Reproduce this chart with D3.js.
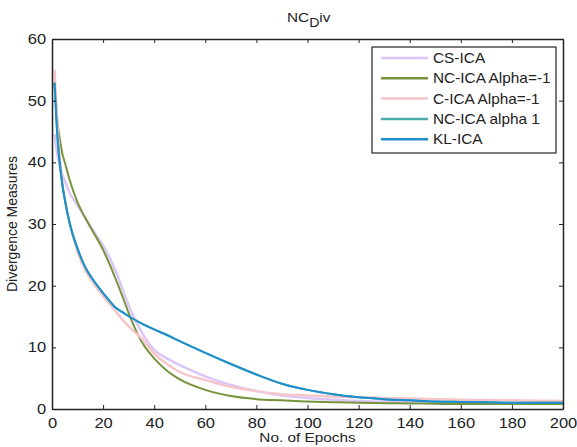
<!DOCTYPE html>
<html>
<head>
<meta charset="utf-8">
<script src="https://cdn.jsdelivr.net/npm/d3@7"></script>
<style>
body { margin: 0; background: #fff; }
svg text { font-family: "Liberation Sans", Arial, sans-serif; fill: #222; }
</style>
</head>
<body>
<svg id="chart" width="577" height="447"></svg>
<script>
// epochs
var epochs = [1, 2, 3, 4, 5, 7, 10, 13, 16, 20, 22, 25, 28, 31, 35, 40, 45, 50, 60, 70, 80, 90, 100, 110, 120, 130, 140, 150, 160, 170, 180, 190, 200];

var csIca      = [44.6, 41.5, 39.5, 38, 37, 35, 33, 31, 29, 26.5, 25, 22.3, 19, 15.8, 12.5, 9.6, 8.2, 7.1, 5.3, 3.9, 2.9, 2.2, 1.8, 1.5, 1.3, 1.2, 1.1, 1.05, 1.0, 0.95, 0.9, 0.9, 0.9];
var ncIcaNeg   = [53, 47, 44, 41.5, 40, 37, 33.5, 31, 28.8, 25.8, 24.0, 21.0, 17.8, 14.5, 11, 8.2, 6.2, 4.8, 3.1, 2.1, 1.6, 1.4, 1.2, 1.1, 1.0, 0.95, 0.9, 0.85, 0.8, 0.8, 0.8, 0.8, 0.8];
var cIcaNeg    = [55, 47, 41, 37, 34, 30, 25.5, 22.5, 20.5, 18.3, 17.3, 15.8, 14.3, 13, 11.5, 9.0, 7.3, 6.0, 4.7, 3.6, 2.9, 2.4, 2.2, 2.0, 1.9, 1.8, 1.7, 1.6, 1.5, 1.45, 1.4, 1.35, 1.3];
var ncIcaPos   = [52.9, 45, 40, 36.5, 34, 30, 26, 23, 21, 18.8, 17.8, 16.4, 15.6, 14.8, 13.9, 12.9, 12.0, 11.0, 9.1, 7.3, 5.6, 4.1, 3.1, 2.4, 1.9, 1.6, 1.4, 1.2, 1.15, 1.1, 1.0, 1.0, 1.0];
var klIca      = [52.9, 45, 40, 36.5, 34, 30, 26, 23, 21, 18.8, 17.8, 16.4, 15.6, 14.8, 13.9, 12.9, 12.0, 11.0, 9.1, 7.3, 5.6, 4.1, 3.1, 2.4, 1.9, 1.6, 1.4, 1.2, 1.15, 1.1, 1.0, 1.0, 1.0];

var seriesNames = ["CS-ICA", "NC-ICA Alpha=-1", "C-ICA Alpha=-1", "NC-ICA alpha 1", "KL-ICA"];
var seriesValues = [csIca, ncIcaNeg, cIcaNeg, ncIcaPos, klIca];
var seriesColors = ["#dcc6f7", "#77933c", "#f7c6cb", "#4bacaa", "#1f8fcc"];
var seriesWidths = [2.5, 2, 2.5, 2, 2];

var xTicks = [0, 20, 40, 60, 80, 100, 120, 140, 160, 180, 200];
var yTicks = [0, 10, 20, 30, 40, 50, 60];

var svg = d3.select("#chart");
var m = {left: 52, right: 14, top: 39, bottom: 38},
    w = 577 - m.left - m.right,
    h = 447 - m.top - m.bottom;

var x = d3.scaleLinear().domain([0, 200]).range([0, w]);
var y = d3.scaleLinear().domain([0, 60]).range([h, 0]);

var g = svg.append("g").attr("transform", "translate(" + m.left + "," + m.top + ")");

// lines
var line = d3.line().x(function(d) { return x(d[0]); }).y(function(d) { return y(d[1]); }).curve(d3.curveMonotoneX);

seriesValues.forEach(function(vals, i) {
	g.append("path")
		.datum(epochs.map(function(e, j) { return [e, vals[j]]; }))
		.attr("fill", "none")
		.attr("stroke", seriesColors[i])
		.attr("stroke-width", seriesWidths[i])
		.attr("d", line);
});

// text in the picture is a bit stretched sideways
var stretch = 1.18;

// axes (matlab style: ticks inside, mirrored on top/right)
function styleAxis(sel) {
	sel.selectAll(".domain").attr("stroke", "#222").attr("stroke-width", 1.5);
	sel.selectAll(".tick line").attr("stroke", "#222");
	sel.selectAll(".tick text").style("font-size", "14px").attr("fill", "#222");
}

var xAxis = g.append("g").attr("transform", "translate(0," + h + ")")
	.call(d3.axisBottom(x).tickValues(xTicks).tickSizeInner(-4).tickSizeOuter(0).tickPadding(9));
xAxis.call(styleAxis);
xAxis.selectAll(".tick text").attr("transform", "scale(" + stretch + ",1)");

var yAxis = g.append("g")
	.call(d3.axisLeft(y).tickValues(yTicks).tickSizeInner(-4).tickSizeOuter(0).tickPadding(5));
yAxis.call(styleAxis);
yAxis.selectAll(".tick text").attr("transform", "scale(" + stretch + ",1)");

var topAxis = g.append("g")
	.call(d3.axisTop(x).tickValues(xTicks).tickSizeInner(-4).tickSizeOuter(0).tickFormat(""));
topAxis.call(styleAxis);

var rightAxis = g.append("g").attr("transform", "translate(" + w + ",0)")
	.call(d3.axisRight(y).tickValues(yTicks).tickSizeInner(-4).tickSizeOuter(0).tickFormat(""));
rightAxis.call(styleAxis);

// title with subscript
var title = svg.append("text").attr("transform", "translate(287,22) scale(" + stretch + ",1)").style("font-size", "13px");
title.append("tspan").text("NC");
title.append("tspan").attr("dy", 5).style("font-size", "12px").text("D");
title.append("tspan").attr("dy", -5).text("iv");

svg.append("text").attr("transform", "translate(" + (m.left + w / 2) + ",442) scale(" + stretch + ",1)")
	.attr("text-anchor", "middle").style("font-size", "13px").text("No. of Epochs");
svg.append("text").attr("transform", "translate(17," + (m.top + h / 2) + ") rotate(-90)")
	.attr("text-anchor", "middle").style("font-size", "14px").text("Divergence Measures");

// legend
var legend = svg.append("g").attr("transform", "translate(372,47)");
legend.append("rect").attr("width", 184).attr("height", 106).attr("fill", "#fff").attr("stroke", "#222").attr("stroke-width", 1.2);

var items = legend.selectAll(".item").data(seriesNames).enter().append("g").attr("class", "item")
	.attr("transform", function(d, i) { return "translate(0," + (11 + i * 20.3) + ")"; });
items.append("line").attr("x1", 9).attr("x2", 56).attr("y1", 0).attr("y2", 0)
	.attr("stroke", function(d, i) { return seriesColors[i]; }).attr("stroke-width", 2.5);
items.append("text").attr("transform", "translate(61,5) scale(1.1,1)")
	.style("font-size", "14px").text(function(d) { return d; });
</script>
</body>
</html>
